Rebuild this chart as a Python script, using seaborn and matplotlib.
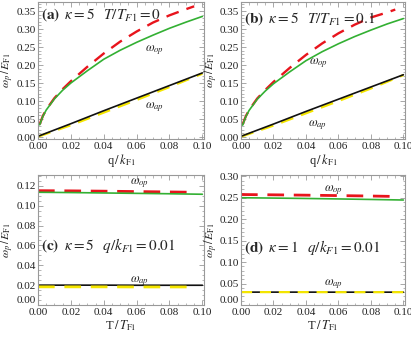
import numpy as np
import pandas as pd
import matplotlib
matplotlib.use("Agg")
import matplotlib.pyplot as plt
import seaborn as sns
from matplotlib.ticker import MultipleLocator, AutoMinorLocator, FormatStrFormatter

# ---------------- data ----------------
# panel (a): kappa=5, T/TF1=0
q_curve = [0.001, 0.003, 0.005, 0.01, 0.015, 0.02, 0.03, 0.04, 0.05, 0.06, 0.07, 0.08, 0.09, 0.10]
q_red = [0.001, 0.003, 0.005, 0.01, 0.015, 0.02, 0.03, 0.04, 0.05, 0.06, 0.07, 0.08, 0.09, 0.095]
a_green = [0.034, 0.058, 0.075, 0.106, 0.130, 0.150, 0.184, 0.216, 0.241, 0.263, 0.283, 0.302, 0.319, 0.335]
a_red = [0.035, 0.059, 0.076, 0.108, 0.133, 0.155, 0.195, 0.232, 0.265, 0.293, 0.318, 0.338, 0.355, 0.363]
q_lin = [0.0, 0.02, 0.04, 0.06, 0.08, 0.10]
a_black = [0.002, 0.037, 0.073, 0.108, 0.143, 0.178]
a_yellow = [0.001, 0.033, 0.068, 0.103, 0.139, 0.176]

# panel (b): kappa=5, T/TF1=0.1
b_green = [0.033, 0.057, 0.074, 0.105, 0.128, 0.148, 0.181, 0.212, 0.237, 0.259, 0.279, 0.297, 0.314, 0.329]
b_red = [0.035, 0.058, 0.075, 0.107, 0.131, 0.153, 0.192, 0.228, 0.260, 0.288, 0.312, 0.332, 0.346, 0.354]
b_black = [0.002, 0.036, 0.071, 0.105, 0.139, 0.173]
b_yellow = [0.001, 0.032, 0.066, 0.100, 0.135, 0.172]

# panels (c), (d): vs temperature
T_vals = [0.0, 0.02, 0.04, 0.06, 0.08, 0.10]
T_dash = [0.0, 0.02, 0.04, 0.06, 0.08, 0.095]
c_red = [0.1152, 0.1150, 0.1147, 0.1143, 0.1139, 0.1136]
c_green = [0.1136, 0.1133, 0.1129, 0.1125, 0.1121, 0.1116]
c_black = [0.0200, 0.0200, 0.0200, 0.0199, 0.0199, 0.0199]
c_yellow = [0.0183, 0.0183, 0.0183, 0.0182, 0.0182, 0.0182]
d_red = [0.2575, 0.2568, 0.2560, 0.2550, 0.2540, 0.2530]
d_green = [0.2500, 0.2492, 0.2483, 0.2472, 0.2460, 0.2447]
d_black = [0.0300, 0.0300, 0.0300, 0.0299, 0.0299, 0.0299]
d_yellow = [0.0300, 0.0300, 0.0300, 0.0299, 0.0299, 0.0299]

panel_titles = [r"$\mathbf{(a)}\;\;\kappa=5\;\;\;T/T_{F1}=0$",
                r"$\mathbf{(b)}\;\;\kappa=5\;\;\;T/T_{F1}=0.1$",
                r"$\mathbf{(c)}\;\;\kappa=5\;\;\;q/k_{F1}=0.01$",
                r"$\mathbf{(d)}\;\;\kappa=1\;\;\;q/k_{F1}=0.01$"]

# ---------------- style ----------------
sns.set_style("ticks")
plt.rcParams["font.family"] = ["Liberation Serif", "DejaVu Serif"]
plt.rcParams["mathtext.fontset"] = "stix"

RED = "#e8141c"
GREEN = "#33b033"
YELLOW = "#f5e600"
BLACK = "#111111"
FRAME = "#999999"

fig = plt.figure(figsize=(4.11, 3.41), dpi=100)
W, H = 411.0, 341.0

def add_ax(l, t, r, b):
    return fig.add_axes([l / W, 1 - b / H, (r - l) / W, (b - t) / H])

axA = add_ax(38, 2, 204, 139)
axB = add_ax(241, 2, 405, 139)
axC = add_ax(38, 175, 204, 305)
axD = add_ax(241, 175, 405, 305)

def style(ax, ylim, ymaj, yminor_n, xlabel, raise_zero=False):
    ax.set_xlim(0, 0.101)
    ax.set_ylim(*ylim)
    ax.xaxis.set_major_locator(MultipleLocator(0.02))
    ax.xaxis.set_minor_locator(AutoMinorLocator(4))
    ax.yaxis.set_major_locator(MultipleLocator(ymaj))
    ax.yaxis.set_minor_locator(AutoMinorLocator(yminor_n))
    ax.xaxis.set_major_formatter(FormatStrFormatter("%.2f"))
    ax.yaxis.set_major_formatter(FormatStrFormatter("%.2f"))
    ax.tick_params(which="both", direction="in", top=True, right=True,
                   color=FRAME, labelsize=8, labelcolor="#222222")
    ax.tick_params(axis="y", pad=1.5)
    ax.tick_params(axis="x", pad=2)
    ax.tick_params(which="major", length=3.5, width=0.6)
    ax.tick_params(which="minor", length=1.8, width=0.5)
    for s in ax.spines.values():
        s.set_color(FRAME)
        s.set_linewidth(0.8)
    ax.set_xlabel(xlabel, fontsize=9, labelpad=1, color="#222222")
    ax.set_ylabel(r"$\omega_p\,/\,E_{\rm F1}$", fontsize=8.5, color="#222222")
    ax.yaxis.set_label_coords(-0.13, 0.5)
    if raise_zero:
        fig.canvas.draw()
        for lab in ax.get_yticklabels():
            if lab.get_text() == "0.00":
                lab.set_va("bottom")

def solid(ax, x, y, color):
    sns.lineplot(x=x, y=y, ax=ax, color=color, linewidth=1.2, errorbar=None, sort=False)

def dashed(ax, x, y, color, lw=1.7, pattern=(5.5, 3.5)):
    sns.lineplot(x=x, y=y, ax=ax, color=color, linewidth=lw, errorbar=None, sort=False,
                 linestyle=(0, pattern))

# (a)
dashed(axA, q_red, a_red, RED)
solid(axA, q_curve, a_green, GREEN)
dashed(axA, q_lin, a_yellow, YELLOW)
solid(axA, q_lin, a_black, BLACK)
style(axA, (-0.0055, 0.375), 0.05, 5, r"q$\,/\,k_{\rm F1}$")
axA.text(0.071, 0.242, r"$\omega_{op}$", fontsize=9, ha="center", va="center")
axA.text(0.071, 0.084, r"$\omega_{ap}$", fontsize=9, ha="center", va="center")

# (b)
dashed(axB, q_red, b_red, RED)
solid(axB, q_curve, b_green, GREEN)
dashed(axB, q_lin, b_yellow, YELLOW)
solid(axB, q_lin, b_black, BLACK)
style(axB, (-0.0055, 0.375), 0.05, 5, r"q$\,/\,k_{\rm F1}$")
axB.text(0.048, 0.205, r"$\omega_{op}$", fontsize=9, ha="center", va="center")
axB.text(0.047, 0.033, r"$\omega_{ap}$", fontsize=9, ha="center", va="center")

# (c)
dashed(axC, T_dash, c_red, RED, lw=2.0, pattern=(6.0, 3.5))
solid(axC, T_vals, c_green, GREEN)
solid(axC, T_vals, c_black, BLACK)
dashed(axC, T_dash, c_yellow, YELLOW, lw=2.0, pattern=(6.0, 3.5))
style(axC, (0, 0.131), 0.02, 4, r"T$\,/\,T_{\rm F1}$", raise_zero=True)
axC.text(0.062, 0.1225, r"$\omega_{op}$", fontsize=9, ha="center", va="center")
axC.text(0.062, 0.0245, r"$\omega_{ap}$", fontsize=9, ha="center", va="center")

# (d)
dashed(axD, T_dash, d_red, RED, lw=2.0, pattern=(6.0, 3.5))
solid(axD, T_vals, d_green, GREEN)
solid(axD, T_vals, d_black, BLACK)
dashed(axD, T_vals, d_yellow, YELLOW, lw=1.6, pattern=(5.0, 3.5))
style(axD, (0, 0.303), 0.05, 5, r"T$\,/\,T_{\rm F1}$", raise_zero=True)
axD.text(0.057, 0.268, r"$\omega_{op}$", fontsize=9, ha="center", va="center")
axD.text(0.057, 0.048, r"$\omega_{ap}$", fontsize=9, ha="center", va="center")

axA.text(0.002, 0.339, panel_titles[0], fontsize=11, ha="left", va="center")
axB.text(0.002, 0.329, panel_titles[1], fontsize=11, ha="left", va="center")
axC.text(0.002, 0.060, panel_titles[2], fontsize=11, ha="left", va="center")
axD.text(0.002, 0.134, panel_titles[3], fontsize=11, ha="left", va="center")

fig.savefig("out.png", dpi=100)
